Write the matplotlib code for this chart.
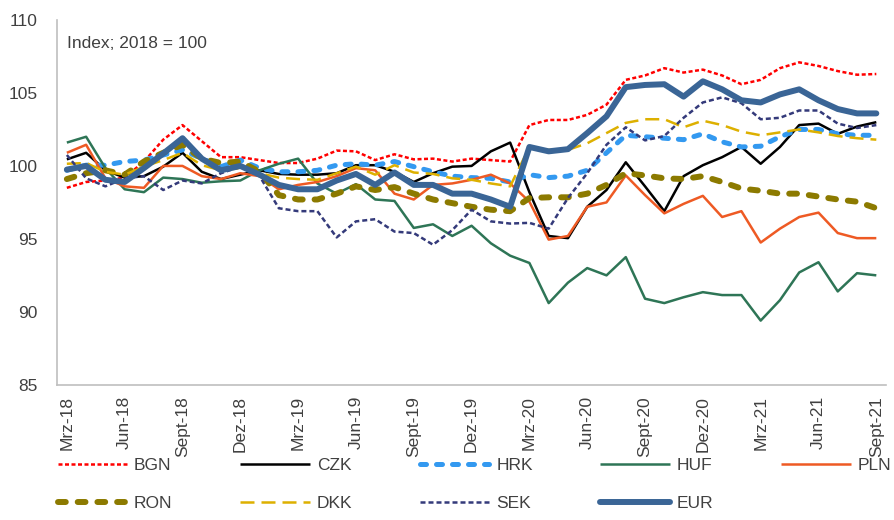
import numpy as np
import matplotlib
matplotlib.use("Agg")
from matplotlib import pyplot as plt

plt.rcParams['font.family'] = ['Liberation Sans', 'DejaVu Sans']

# Data: monthly index values, Mar 2018 - Sep 2021 (2018 = 100)
months = ['Mrz-18', 'Apr-18', 'Mai-18', 'Jun-18', 'Jul-18', 'Aug-18', 'Sept-18', 'Okt-18', 'Nov-18', 'Dez-18',
          'Jan-19', 'Feb-19', 'Mrz-19', 'Apr-19', 'Mai-19', 'Jun-19', 'Jul-19', 'Aug-19', 'Sept-19', 'Okt-19',
          'Nov-19', 'Dez-19', 'Jan-20', 'Feb-20', 'Mrz-20', 'Apr-20', 'Mai-20', 'Jun-20', 'Jul-20', 'Aug-20',
          'Sept-20', 'Okt-20', 'Nov-20', 'Dez-20', 'Jan-21', 'Feb-21', 'Mrz-21', 'Apr-21', 'Mai-21', 'Jun-21',
          'Jul-21', 'Aug-21', 'Sept-21']

bgn = [98.5, 98.9, 99.0, 99.2, 100.3, 101.8, 102.8, 101.7, 100.6, 100.6, 100.4, 100.2, 100.2, 100.5, 101.05,
       101.0, 100.4, 100.8, 100.45, 100.5, 100.3, 100.5, 100.4, 100.3, 102.8, 103.15, 103.15, 103.5, 104.2,
       105.9, 106.2, 106.7, 106.4, 106.6, 106.2, 105.6, 105.9, 106.7, 107.1, 106.85, 106.5, 106.25, 106.3]
czk = [100.45, 100.9, 99.7, 99.2, 99.3, 99.95, 100.9, 99.6, 99.1, 99.4, 99.7, 99.45, 99.4, 99.4, 99.5,
       100.05, 100.05, 99.6, 98.9, 99.5, 99.95, 100.0, 101.0, 101.6, 98.2, 95.2, 95.05, 97.2, 98.35,
       100.25, 98.6, 96.9, 99.3, 100.05, 100.6, 101.3, 100.15, 101.3, 102.8, 102.9, 102.2, 102.7, 103.0]
hrk = [99.7, 100.05, 100.05, 100.3, 100.4, 100.75, 101.1, 100.5, 99.95, 100.4, 99.85, 99.6, 99.6, 99.7,
       100.05, 100.15, 100.05, 100.3, 99.95, 99.6, 99.3, 99.2, 99.15, 98.9, 99.4, 99.2, 99.3, 99.7, 100.9,
       102.1, 102.0, 101.9, 101.8, 102.2, 101.65, 101.3, 101.35, 102.0, 102.5, 102.5, 102.2, 102.1, 102.1]
huf = [101.6, 102.0, 99.85, 98.4, 98.2, 99.2, 99.1, 98.85, 98.95, 99.0, 99.7, 100.15, 100.5, 98.8, 98.1,
       98.75, 97.7, 97.6, 95.75, 96.0, 95.2, 95.9, 94.7, 93.85, 93.35, 90.6, 92.0, 93.0, 92.5, 93.75, 90.9,
       90.6, 91.0, 91.35, 91.15, 91.15, 89.4, 90.8, 92.7, 93.4, 91.4, 92.65, 92.5]
pln = [100.9, 101.45, 99.15, 98.6, 98.5, 100.0, 100.0, 99.3, 99.1, 99.5, 99.3, 98.4, 98.7, 98.9, 99.3,
       99.85, 99.7, 98.1, 97.7, 98.7, 98.8, 99.05, 99.4, 98.8, 97.55, 94.95, 95.2, 97.2, 97.5, 99.35, 98.0,
       96.75, 97.4, 97.95, 96.5, 96.9, 94.75, 95.7, 96.5, 96.8, 95.4, 95.05, 95.05]
ron = [99.1, 99.5, 99.7, 99.4, 100.3, 100.9, 101.45, 100.5, 100.2, 100.3, 99.6, 98.0, 97.7, 97.7, 98.1,
       98.6, 98.35, 98.55, 98.1, 97.7, 97.45, 97.2, 97.0, 96.9, 97.8, 97.85, 97.85, 98.1, 98.7, 99.5, 99.35,
       99.15, 99.1, 99.3, 98.9, 98.45, 98.3, 98.1, 98.1, 97.9, 97.7, 97.55, 97.1]
dkk = [100.15, 100.2, 99.6, 99.4, 99.95, 100.4, 100.9, 100.05, 99.7, 99.85, 99.5, 99.2, 99.1, 99.05, 99.5,
       99.95, 99.4, 100.05, 99.55, 99.45, 99.15, 99.05, 98.8, 98.6, 101.3, 101.1, 101.1, 101.55, 102.25,
       102.95, 103.2, 103.2, 102.65, 103.1, 102.8, 102.35, 102.1, 102.3, 102.5, 102.3, 102.05, 101.9, 101.8]
sek = [100.75, 99.15, 98.6, 99.15, 99.3, 98.35, 99.0, 98.8, 99.5, 99.95, 99.3, 97.1, 96.9, 96.9, 95.1,
       96.2, 96.35, 95.5, 95.4, 94.6, 95.6, 97.0, 96.2, 96.05, 96.1, 95.7, 97.8, 99.5, 101.45, 102.65,
       101.75, 102.05, 103.3, 104.35, 104.7, 104.3, 103.2, 103.3, 103.8, 103.8, 102.9, 102.6, 102.8]
eur = [99.75, 100.0, 99.05, 98.9, 99.85, 100.85, 101.9, 100.5, 99.7, 100.0, 99.4, 98.7, 98.4, 98.4, 99.0,
       99.45, 98.7, 99.55, 98.7, 98.7, 98.1, 98.1, 97.7, 97.2, 101.3, 101.0, 101.15, 102.25, 103.4, 105.4,
       105.55, 105.6, 104.75, 105.8, 105.25, 104.5, 104.35, 104.9, 105.25, 104.5, 103.9, 103.6, 103.6]

x = np.arange(len(months))

# (label, values, colour, width, dashes, capstyle)
styles = [
    ('BGN', bgn, '#FF0000', 1.8, (1.6, 1.0), 'butt'),
    ('CZK', czk, '#000000', 1.8, None, 'butt'),
    ('HRK', hrk, '#3399F0', 3.6, (1.2, 2.0), 'round'),
    ('HUF', huf, '#2E7556', 1.8, None, 'butt'),
    ('PLN', pln, '#EE5A24', 1.8, None, 'butt'),
    ('RON', ron, '#8C7A00', 4.3, (1.3, 2.0), 'round'),
    ('DKK', dkk, '#DDB000', 1.8, (5.6, 2.8), 'butt'),
    ('SEK', sek, '#343A7A', 1.8, (2.0, 1.2), 'butt'),
    ('EUR', eur, '#3A6596', 4.3, None, 'round'),
]

fig = plt.figure(figsize=(8.94, 5.2), dpi=100)
ax = fig.add_axes([0.064, 0.26, 0.927, 0.7015])

lines = {}
for name, vals, col, lw, dash, cap in styles:
    ln, = ax.plot(x, vals, color=col, lw=lw, label=name,
                  solid_capstyle=cap, dash_capstyle=cap, solid_joinstyle='round')
    if dash is not None:
        ln.set_dashes(dash)
    lines[name] = ln

ax.set_xlim(-0.5, len(months) - 0.5)
ax.set_ylim(85, 110)
ax.set_yticks(np.arange(85, 111, 5))
ax.set_xticks(x[::3])
ax.set_xticklabels(months[::3], rotation=90)
ax.tick_params(length=0, labelsize=12.5, colors='#404040')
ax.tick_params(axis='y', pad=14)
ax.tick_params(axis='x', pad=8)

for s in ['top', 'right']:
    ax.spines[s].set_visible(False)
for s in ['left', 'bottom']:
    ax.spines[s].set_color('#BFBFBF')
    ax.spines[s].set_linewidth(1.2)

ax.text(0.012, 0.955, 'Index; 2018 = 100', transform=ax.transAxes,
        fontsize=12.5, color='#404040', va='top')

# legend laid out row by row (matplotlib fills columns first)
order = ['BGN', 'RON', 'CZK', 'DKK', 'HRK', 'SEK', 'HUF', 'EUR', 'PLN']
fig.legend([lines[n] for n in order], order, ncol=5, loc='lower left',
           bbox_to_anchor=(0.047, -0.012), frameon=False, fontsize=12.5,
           handlelength=4.0, handletextpad=0.4, columnspacing=3.9,
           labelspacing=1.27, labelcolor='#404040')

fig.savefig('out.png', dpi=100)
